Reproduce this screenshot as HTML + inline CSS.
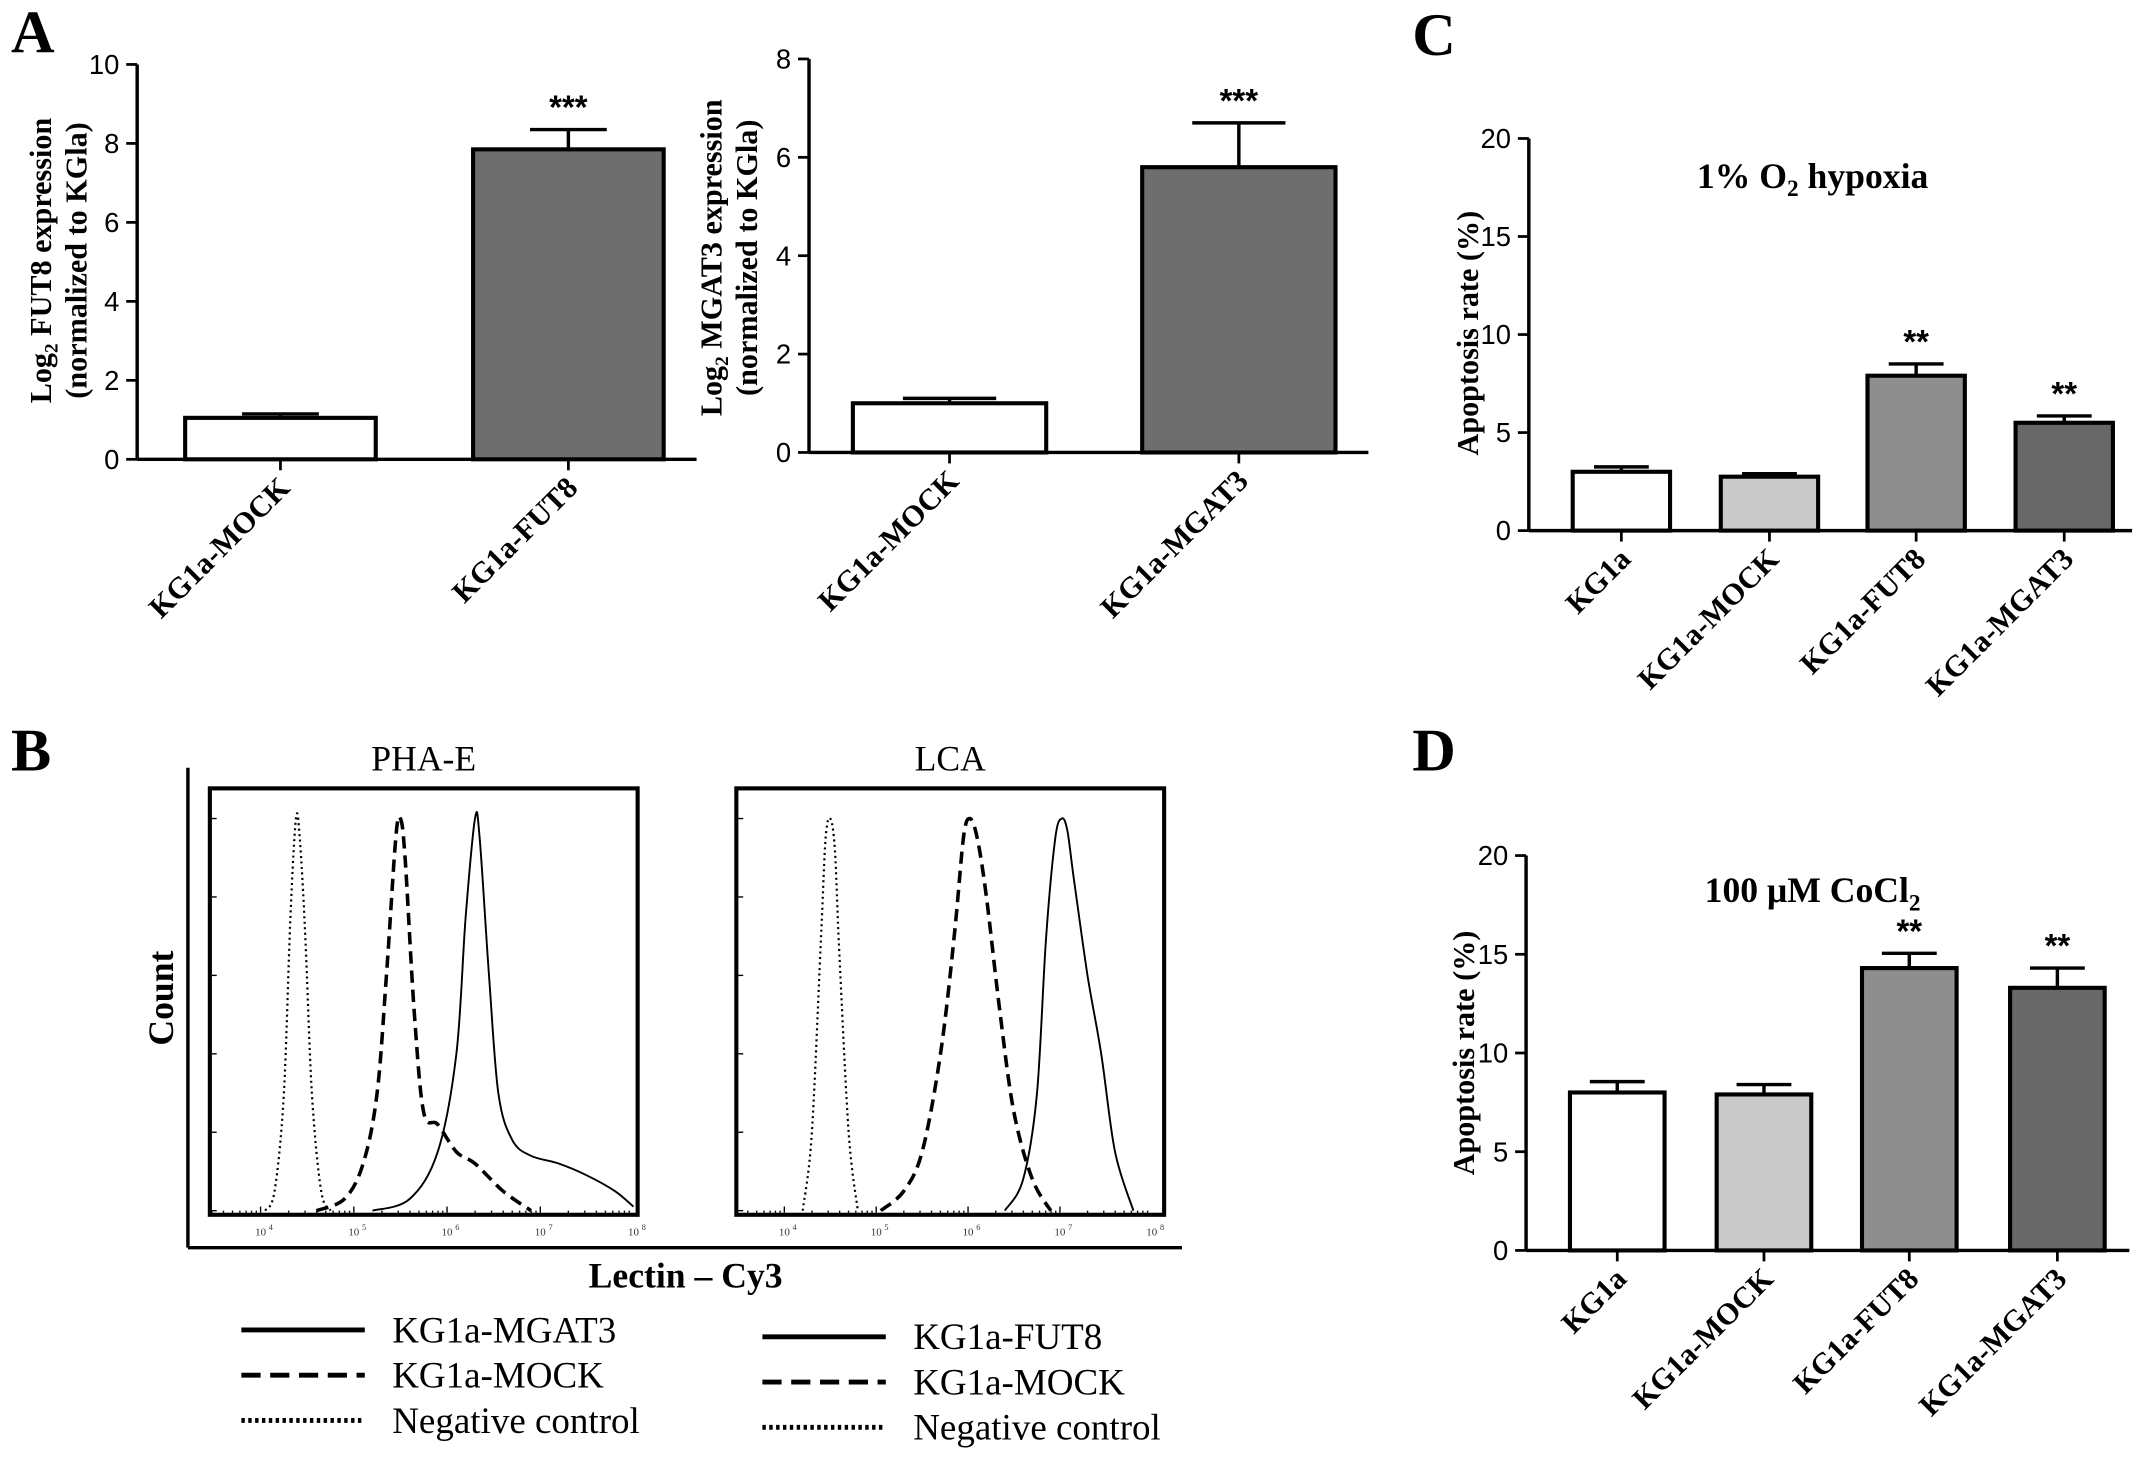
<!DOCTYPE html>
<html><head><meta charset="utf-8">
<style>
html,body{margin:0;padding:0;background:#fff;}
svg{display:block;font-family:"Liberation Serif",serif;}
</style></head>
<body>
<svg id="fig" width="2150" height="1465" viewBox="0 0 1568 1068.5" xmlns="http://www.w3.org/2000/svg">
<rect width="1568" height="1069" fill="#fff"/>
<g id="root"></g>
</svg>
<script>
// ---- Panel A left data ----
const aLeftCats = ["KG1a-MOCK","KG1a-FUT8"];
const aLeftVals = [1.05, 7.85];
const aLeftErr = [0.1, 0.5];
const aLeftTicks = [0,2,4,6,8,10];
const aLeftSig = ["","***"];
// ---- Panel A right data ----
const aRightCats = ["KG1a-MOCK","KG1a-MGAT3"];
const aRightVals = [1.0, 5.8];
const aRightErr = [0.1, 0.9];
const aRightTicks = [0,2,4,6,8];
const aRightSig = ["","***"];
// ---- Panel C data ----
const cCats = ["KG1a","KG1a-MOCK","KG1a-FUT8","KG1a-MGAT3"];
const cVals = [3.0, 2.75, 7.9, 5.5];
const cErr = [0.25, 0.15, 0.6, 0.35];
const cTicks = [0,5,10,15,20];
const cSig = ["","","**","**"];
// ---- Panel D data ----
const dCats = ["KG1a","KG1a-MOCK","KG1a-FUT8","KG1a-MGAT3"];
const dVals = [8.0, 7.9, 14.3, 13.3];
const dErr = [0.55, 0.5, 0.75, 1.0];
const dTicks = [0,5,10,15,20];
const dSig = ["","","**","**"];
// ---- Panel B histogram data (log10 intensity, % of max count) ----
const phaNegLog = [4.05,4.15,4.25,4.32,4.38,4.42,4.48,4.55,4.65,4.75];
const phaNegCnt = [0,5,30,75,100,95,70,30,5,0];
const phaMockLog = [4.6,4.9,5.1,5.25,5.35,5.45,5.5,5.55,5.65,5.75,5.9,6.1,6.3,6.6,6.9];
const phaMockCnt = [0,3,12,30,60,95,100,90,50,25,22,15,12,5,0];
const phaMgatLog = [5.2,5.6,5.9,6.1,6.2,6.3,6.35,6.45,6.55,6.7,6.9,7.2,7.5,7.8,8.0];
const phaMgatCnt = [0,3,15,40,75,100,95,60,30,18,14,12,9,5,1];
const lcaNegLog = [4.2,4.3,4.4,4.45,4.5,4.55,4.6,4.7,4.8];
const lcaNegCnt = [0,20,70,95,100,92,65,20,0];
const lcaMockLog = [5.05,5.3,5.5,5.7,5.85,5.95,6.02,6.1,6.2,6.35,6.5,6.7,6.9];
const lcaMockCnt = [0,5,15,40,70,95,100,95,80,50,25,8,0];
const lcaFutLog = [6.4,6.6,6.75,6.85,6.95,7.02,7.08,7.15,7.3,7.45,7.6,7.8];
const lcaFutCnt = [0,8,30,70,95,100,97,85,60,40,15,0];
const decades = [4,5,6,7,8];

const NS="http://www.w3.org/2000/svg";
const root=document.getElementById('root');
function mk(tag,attrs,parent,text){const e=document.createElementNS(NS,tag);for(const k in attrs)e.setAttribute(k,attrs[k]);if(text!==undefined)e.textContent=text;(parent||root).appendChild(e);return e;}

function barChart(o){
  const g=mk('g',{});
  
  
  const y=v=>o.y0-(v/o.max)*(o.y0-o.yTop);
  const ax=mk('line',{x1:o.ax,y1:o.yTop,x2:o.ax,y2:o.y0,stroke:'#000','stroke-width':2.5},g);
  
  
  const xl=mk('line',{x1:o.ax,y1:o.y0,x2:o.axEnd,y2:o.y0,stroke:'#000','stroke-width':2.5},g);
  
  
  o.ticks.forEach(t=>{
    mk('line',{x1:o.ax-8,y1:y(t),x2:o.ax,y2:y(t),stroke:'#000','stroke-width':2},g);
    const tl=mk('text',{x:o.ax-13,y:y(t)+7,'text-anchor':'end','font-size':20,'font-family':'Liberation Sans, sans-serif'},g,String(t));
    
    
  });
  o.vals.forEach((v,i)=>{
    const x=o.bx[i];
    const eb=y(v+o.err[i]);
    mk('line',{x1:x+o.bw/2,y1:eb,x2:x+o.bw/2,y2:y(v),stroke:'#000','stroke-width':2.5},g);
    mk('line',{x1:x+o.bw/2-o.cap,y1:eb,x2:x+o.bw/2+o.cap,y2:eb,stroke:'#000','stroke-width':2.5},g);
    const r=mk('rect',{x:x,y:y(v),width:o.bw,height:o.y0-y(v),fill:o.colors[i],stroke:'#000','stroke-width':3},g);
    
    
    mk('line',{x1:x+o.bw/2,y1:o.y0,x2:x+o.bw/2,y2:o.y0+8,stroke:'#000','stroke-width':2},g);
    if(o.sig[i]){
      const s=mk('text',{x:x+o.bw/2,y:eb-8,'text-anchor':'middle','font-size':24,'font-family':'Liberation Sans, sans-serif','font-weight':'bold'},g,o.sig[i]);
      
      
    }
    const cx=x+o.bw/2+8, cy=o.y0+22;
    const lab=mk('text',{x:cx,y:cy,'text-anchor':'end','font-size':22,'font-weight':'bold',transform:`rotate(-45 ${cx} ${cy})`},g,o.cats[i]);
    
    
  });
  return g;
}

barChart({name:'chart-a-fut8',ax:100,axEnd:508,yTop:47,y0:335,max:10,ticks:aLeftTicks,vals:aLeftVals,err:aLeftErr,cats:aLeftCats,sig:aLeftSig,bx:[135,345],bw:139,cap:28,colors:['#fff','#6e6e6e']});
barChart({name:'chart-a-mgat3',ax:590,axEnd:998,yTop:43,y0:330,max:8,ticks:aRightTicks,vals:aRightVals,err:aRightErr,cats:aRightCats,sig:aRightSig,bx:[622,833],bw:141,cap:34,colors:['#fff','#6e6e6e']});
barChart({name:'chart-c-hypoxia',ax:1115,axEnd:1555,yTop:101,y0:387,max:20,ticks:cTicks,vals:cVals,err:cErr,cats:cCats,sig:cSig,bx:[1147,1255,1362,1470],bw:71,cap:20,colors:['#fff','#c9c9c9','#8e8e8e','#686868']});
barChart({name:'chart-d-cocl2',ax:1113,axEnd:1553,yTop:624,y0:912,max:20,ticks:dTicks,vals:dVals,err:dErr,cats:dCats,sig:dSig,bx:[1145,1252,1358,1466],bw:69,cap:20,colors:['#fff','#c9c9c9','#8e8e8e','#686868']});

function ytitle(x,y,lines,name,size){
  const t=mk('text',{x:0,y:0,'text-anchor':'middle','font-size':size||22,'font-weight':'bold',transform:`translate(${x},${y}) rotate(-90)`});
  
  
  lines.forEach((l,i)=>{const ts=mk('tspan',{x:0,dy:i?26:0},t);ts.innerHTML=l;});
}
ytitle(37,190,['Log<tspan font-size="14" dy="5">2</tspan><tspan dy="-5"> FUT8 expression</tspan>','(normalized to KGla)'],'y-axis-title-fut8');
ytitle(526,188,['Log<tspan font-size="14" dy="5">2</tspan><tspan dy="-5"> MGAT3 expression</tspan>','(normalized to KGla)'],'y-axis-title-mgat3');
ytitle(1078,243,['Apoptosis rate (%)'],'y-axis-title-c');
ytitle(1075,768,['Apoptosis rate (%)'],'y-axis-title-d');

let t=mk('text',{x:1322,y:137,'text-anchor':'middle','font-size':26,'font-weight':'bold'});t.innerHTML='1% O<tspan font-size="17" dy="6">2</tspan><tspan dy="-6"> hypoxia</tspan>';

t=mk('text',{x:1322,y:658,'text-anchor':'middle','font-size':26,'font-weight':'bold'});t.innerHTML='100 μM CoCl<tspan font-size="17" dy="6">2</tspan>';


[['A',8,38],['B',8,562],['C',1030,40],['D',1030,562]].forEach(p=>{
  const l=mk('text',{x:p[1],y:p[2],'font-size':44,'font-weight':'bold'},root,p[0]);
  
  
});

const fr1=mk('line',{x1:137,y1:560,x2:137,y2:910,stroke:'#000','stroke-width':2.5});

const fr2=mk('line',{x1:137,y1:910,x2:862,y2:910,stroke:'#000','stroke-width':2.5});

t=mk('text',{x:0,y:0,'text-anchor':'middle','font-size':26,'font-weight':'bold',transform:'translate(126,728) rotate(-90)'},root,'Count');

t=mk('text',{x:500,y:939,'text-anchor':'middle','font-size':26,'font-weight':'bold'},root,'Lectin – Cy3');


function smoothPath(P){
  let d='M'+P[0][0].toFixed(1)+','+P[0][1].toFixed(1);
  for(let i=0;i<P.length-1;i++){
    const p0=P[Math.max(0,i-1)],p1=P[i],p2=P[i+1],p3=P[Math.min(P.length-1,i+2)];
    const c1=[p1[0]+(p2[0]-p0[0])/6,p1[1]+(p2[1]-p0[1])/6];
    const c2=[p2[0]-(p3[0]-p1[0])/6,p2[1]-(p3[1]-p1[1])/6];
    d+=` C${c1[0].toFixed(1)},${c1[1].toFixed(1)} ${c2[0].toFixed(1)},${c2[1].toFixed(1)} ${p2[0].toFixed(1)},${p2[1].toFixed(1)}`;
  }
  return d;
}

function hist(o){
  const g=mk('g',{});
  
  
  mk('rect',{x:o.x0,y:o.yTop,width:o.x1-o.x0,height:o.yBot-o.yTop,fill:'none',stroke:'#000','stroke-width':3},g);
  const tt=mk('text',{x:(o.x0+o.x1)/2,y:o.yTop-13,'text-anchor':'middle','font-size':26},g,o.title);
  
  const X=l=>o.d4+(l-4)*o.dpx;
  const base=o.yBot-3, top=o.yTop+22;
  const Y=c=>base-(c/100)*(base-top);
  decades.forEach(d=>{
    if(X(d)<o.x1){
      mk('text',{x:X(d),y:o.yBot+15,'text-anchor':'middle','font-size':8,fill:'#333'},g,'10');
      mk('text',{x:X(d)+6,y:o.yBot+11,'font-size':6,fill:'#333'},g,String(d));
    }
    for(let k=1;k<10;k++){const xx=X(d-1+Math.log10(k));if(xx>o.x0&&xx<o.x1)mk('line',{x1:xx,y1:o.yBot-1.5,x2:xx,y2:o.yBot-(k==1?6:3),stroke:'#000','stroke-width':1},g);}
  });
  for(let k=0;k<=5;k++){const yy=base-(k/5)*(base-top);mk('line',{x1:o.x0+1.5,y1:yy,x2:o.x0+5,y2:yy,stroke:'#000','stroke-width':1},g);}
  o.series.forEach(s=>{
    const P=s.logs.map((l,i)=>[X(l),Y(s.cnt[i])]);
    const p=mk('path',{d:smoothPath(P),fill:'none',stroke:'#000','stroke-width':s.w,'stroke-dasharray':s.dash,'stroke-linejoin':'round'},g);
    
    
  });
}
hist({name:'histogram-pha-e',title:'PHA-E',x0:153,x1:465,yTop:575,yBot:886,d4:190,dpx:68,series:[
  {name:'curve-negative-control',logs:phaNegLog,cnt:phaNegCnt,w:1.6,dash:'1.5,2.5'},
  {name:'curve-kg1a-mock',logs:phaMockLog,cnt:phaMockCnt,w:2.6,dash:'9,5'},
  {name:'curve-kg1a-mgat3',logs:phaMgatLog,cnt:phaMgatCnt,w:1.4,dash:'none'}]});
hist({name:'histogram-lca',title:'LCA',x0:537,x1:849,yTop:575,yBot:886,d4:572,dpx:67,series:[
  {name:'curve-negative-control',logs:lcaNegLog,cnt:lcaNegCnt,w:1.6,dash:'1.5,2.5'},
  {name:'curve-kg1a-mock',logs:lcaMockLog,cnt:lcaMockCnt,w:2.6,dash:'9,5'},
  {name:'curve-kg1a-fut8',logs:lcaFutLog,cnt:lcaFutCnt,w:1.4,dash:'none'}]});

function legend(x,y,labels,name){
  const g=mk('g',{});
  
  
  const dashes=['none','14,7','2.5,2.5'];
  labels.forEach((l,i)=>{
    const yy=y+i*33;
    mk('line',{x1:x,y1:yy,x2:x+90,y2:yy,stroke:'#000','stroke-width':3.5,'stroke-dasharray':dashes[i]},g);
    const tx=mk('text',{x:x+110,y:yy+9,'font-size':27},g,l);
    
    
  });
}
legend(176,970,['KG1a-MGAT3','KG1a-MOCK','Negative control'],'legend-pha-e');
legend(556,975,['KG1a-FUT8','KG1a-MOCK','Negative control'],'legend-lca');
</script>
</body></html>
